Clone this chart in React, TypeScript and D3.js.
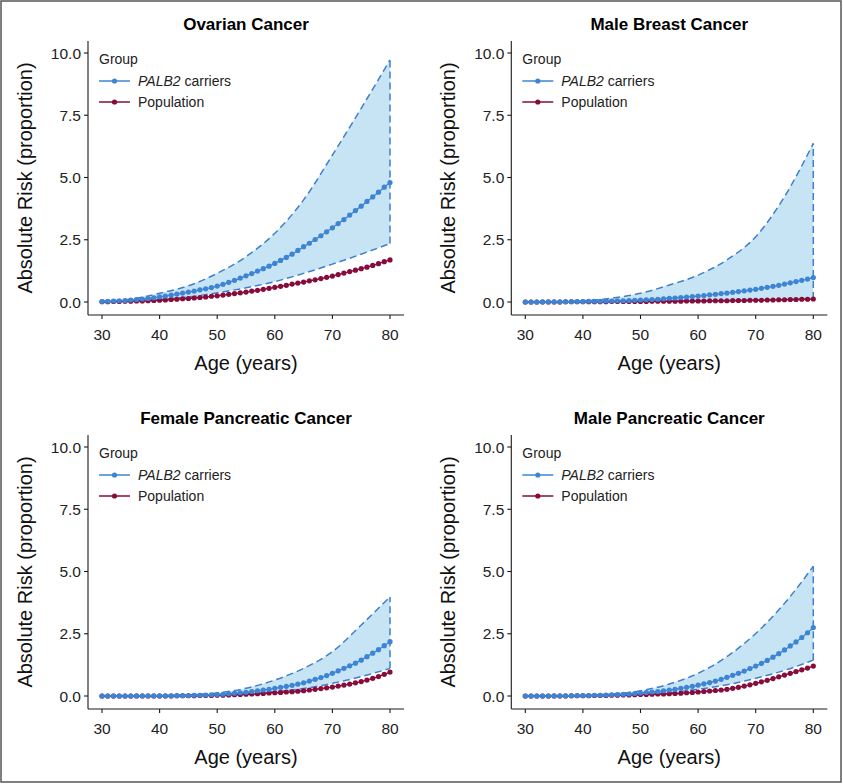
import React from "react";
import * as d3 from "d3";

// ---------- data ----------
const AGES = d3.range(30, 81); // 30..80 yearly
const BAND_AGES = [30, 35, 40, 45, 50, 55, 60, 65, 70, 75, 80];
const X_TICKS = [30, 40, 50, 60, 70, 80];
const Y_TICKS = [0, 2.5, 5, 7.5, 10];
const TITLES = ["Ovarian Cancer", "Male Breast Cancer", "Female Pancreatic Cancer", "Male Pancreatic Cancer"];

const ovarianCarriers = [
  0.02, 0.03, 0.04, 0.05, 0.06, 0.08, 0.10, 0.12, 0.14, 0.17, 0.21,
  0.24, 0.28, 0.32, 0.36, 0.40, 0.44, 0.49, 0.53, 0.58, 0.64,
  0.71, 0.79, 0.87, 0.96, 1.05, 1.14, 1.24, 1.34, 1.44, 1.55,
  1.67, 1.79, 1.92, 2.07, 2.22, 2.36, 2.51, 2.66, 2.82, 2.98,
  3.15, 3.31, 3.49, 3.67, 3.85, 4.04, 4.22, 4.41, 4.61, 4.80,
];
const ovarianPopulation = [
  0.01, 0.01, 0.02, 0.02, 0.03, 0.03, 0.04, 0.04, 0.05, 0.06, 0.07,
  0.08, 0.10, 0.11, 0.13, 0.14, 0.16, 0.18, 0.20, 0.23, 0.25,
  0.28, 0.31, 0.34, 0.37, 0.40, 0.44, 0.47, 0.51, 0.55, 0.59,
  0.63, 0.67, 0.72, 0.76, 0.80, 0.85, 0.89, 0.94, 0.99, 1.04,
  1.10, 1.16, 1.22, 1.28, 1.34, 1.40, 1.47, 1.54, 1.62, 1.69,
];
const ovarianUpper = [0.03, 0.12, 0.35, 0.65, 1.15, 1.82, 2.76, 4.1, 5.9, 7.78, 9.72];
const ovarianLower = [0.01, 0.03, 0.1, 0.2, 0.37, 0.57, 0.82, 1.15, 1.52, 1.92, 2.35];

const maleBreastCarriers = [
  0.00, 0.00, 0.00, 0.01, 0.01, 0.01, 0.01, 0.01, 0.02, 0.02, 0.02,
  0.03, 0.03, 0.03, 0.04, 0.04, 0.05, 0.05, 0.06, 0.07, 0.08,
  0.09, 0.10, 0.11, 0.13, 0.15, 0.16, 0.18, 0.20, 0.22, 0.24,
  0.26, 0.29, 0.31, 0.34, 0.36, 0.39, 0.42, 0.45, 0.48, 0.51,
  0.55, 0.59, 0.63, 0.67, 0.72, 0.77, 0.82, 0.87, 0.92, 0.98,
];
const maleBreastPopulation = [
  0.00, 0.00, 0.00, 0.00, 0.00, 0.00, 0.00, 0.01, 0.01, 0.01, 0.01,
  0.01, 0.01, 0.01, 0.01, 0.02, 0.02, 0.02, 0.02, 0.02, 0.02,
  0.02, 0.03, 0.03, 0.03, 0.03, 0.03, 0.03, 0.04, 0.04, 0.04,
  0.04, 0.05, 0.05, 0.05, 0.05, 0.06, 0.06, 0.06, 0.07, 0.07,
  0.07, 0.08, 0.08, 0.09, 0.09, 0.10, 0.10, 0.11, 0.11, 0.12,
];
const maleBreastUpper = [0.0, 0.01, 0.05, 0.15, 0.35, 0.68, 1.08, 1.69, 2.62, 4.23, 6.37];
const maleBreastLower = [0.0, 0.0, 0.0, 0.01, 0.02, 0.03, 0.04, 0.05, 0.07, 0.09, 0.12];

const femPancCarriers = [
  0.00, 0.00, 0.00, 0.00, 0.00, 0.00, 0.01, 0.01, 0.01, 0.01, 0.01,
  0.01, 0.01, 0.01, 0.02, 0.02, 0.03, 0.03, 0.04, 0.05, 0.06,
  0.07, 0.09, 0.11, 0.13, 0.15, 0.18, 0.21, 0.24, 0.27, 0.31,
  0.35, 0.39, 0.43, 0.48, 0.53, 0.60, 0.67, 0.74, 0.82, 0.91,
  1.01, 1.11, 1.21, 1.32, 1.44, 1.58, 1.72, 1.86, 2.02, 2.18,
];
const femPancPopulation = [
  0.00, 0.00, 0.00, 0.00, 0.00, 0.00, 0.00, 0.00, 0.00, 0.00, 0.00,
  0.00, 0.00, 0.01, 0.01, 0.01, 0.01, 0.02, 0.02, 0.02, 0.03,
  0.03, 0.04, 0.05, 0.06, 0.07, 0.08, 0.09, 0.10, 0.12, 0.13,
  0.14, 0.16, 0.17, 0.19, 0.21, 0.24, 0.27, 0.30, 0.33, 0.36,
  0.40, 0.44, 0.48, 0.53, 0.58, 0.64, 0.71, 0.78, 0.87, 0.96,
];
const femPancUpper = [0.0, 0.0, 0.02, 0.05, 0.12, 0.31, 0.64, 1.11, 1.78, 2.85, 3.98];
const femPancLower = [0.0, 0.0, 0.0, 0.01, 0.03, 0.08, 0.17, 0.3, 0.51, 0.78, 1.11];

const malePancCarriers = [
  0.00, 0.00, 0.00, 0.00, 0.00, 0.01, 0.01, 0.01, 0.01, 0.02, 0.02,
  0.02, 0.03, 0.03, 0.04, 0.05, 0.06, 0.07, 0.08, 0.10, 0.12,
  0.14, 0.16, 0.18, 0.21, 0.24, 0.27, 0.31, 0.35, 0.39, 0.44,
  0.49, 0.54, 0.60, 0.67, 0.75, 0.83, 0.91, 1.00, 1.10, 1.20,
  1.31, 1.43, 1.56, 1.70, 1.85, 2.01, 2.17, 2.35, 2.54, 2.75,
];
const malePancPopulation = [
  0.00, 0.00, 0.00, 0.00, 0.00, 0.00, 0.00, 0.00, 0.01, 0.01, 0.01,
  0.01, 0.02, 0.02, 0.02, 0.03, 0.03, 0.04, 0.04, 0.05, 0.06,
  0.06, 0.07, 0.08, 0.08, 0.09, 0.10, 0.11, 0.13, 0.14, 0.16,
  0.18, 0.20, 0.22, 0.24, 0.27, 0.31, 0.35, 0.40, 0.45, 0.51,
  0.57, 0.63, 0.70, 0.77, 0.84, 0.91, 0.98, 1.05, 1.12, 1.20,
];
const malePancUpper = [0.0, 0.01, 0.03, 0.08, 0.21, 0.48, 0.91, 1.58, 2.51, 3.72, 5.21];
const malePancLower = [0.0, 0.0, 0.01, 0.02, 0.05, 0.13, 0.27, 0.45, 0.71, 1.03, 1.44];

const PANELS = [
  { title: TITLES[0], carriers: ovarianCarriers, population: ovarianPopulation, upper: ovarianUpper, lower: ovarianLower, ox: 0, oy: 0 },
  { title: TITLES[1], carriers: maleBreastCarriers, population: maleBreastPopulation, upper: maleBreastUpper, lower: maleBreastLower, ox: 423.3, oy: 0 },
  { title: TITLES[2], carriers: femPancCarriers, population: femPancPopulation, upper: femPancUpper, lower: femPancLower, ox: 0, oy: 394 },
  { title: TITLES[3], carriers: malePancCarriers, population: malePancPopulation, upper: malePancUpper, lower: malePancLower, ox: 423.3, oy: 394 },
];

// ---------- style ----------
const BLUE = "#3d84d4";
const DASH_BLUE = "#3f7fcc";
const FILL = "#c6e4f3";
const RED = "#870b3b";
const INK = "#1a1a1a";
const FONT = "'Liberation Sans', Arial, Helvetica, sans-serif";

const x = d3.scaleLinear().domain([30, 80]).range([102, 390]);
const y = d3.scaleLinear().domain([0, 10]).range([302, 53]);
const fmt = d3.format(".1f");

function Panel({ p }: { p: (typeof PANELS)[number] }) {
  const carriers = AGES.map((a, i) => [a, p.carriers[i]] as [number, number]);
  const pop = AGES.map((a, i) => [a, p.population[i]] as [number, number]);
  const band = BAND_AGES.map((a, i) => ({ a, lo: p.lower[i], hi: p.upper[i] }));
  const line = d3.line<[number, number]>().x((d) => x(d[0])).y((d) => y(d[1]));
  const area = d3
    .area<{ a: number; lo: number; hi: number }>()
    .x((d) => x(d.a))
    .y0((d) => y(d.lo))
    .y1((d) => y(d.hi))
    .curve(d3.curveMonotoneX);
  const bandLine = (key: "lo" | "hi") =>
    d3
      .line<{ a: number; lo: number; hi: number }>()
      .x((d) => x(d.a))
      .y((d) => y(d[key]))
      .curve(d3.curveMonotoneX)(band) || "";
  const last = band[band.length - 1];
  const axisL = 88, axisR = 404, axisT = 41, axisB = 315;
  return (
    <g transform={`translate(${p.ox},${p.oy})`}>
      <text x={246} y={30} textAnchor="middle" fontSize={17} fontWeight="bold" fill="#000">
        {p.title}
      </text>
      {/* ribbon */}
      <path d={area(band) || ""} fill={FILL} stroke="none" />
      <path d={bandLine("hi")} fill="none" stroke={DASH_BLUE} strokeWidth={1.5} strokeDasharray="7,4" />
      <path d={bandLine("lo")} fill="none" stroke={DASH_BLUE} strokeWidth={1.5} strokeDasharray="7,4" />
      <line x1={x(last.a)} x2={x(last.a)} y1={y(last.lo)} y2={y(last.hi)} stroke={DASH_BLUE} strokeWidth={1.5} strokeDasharray="7,4" />
      {/* population */}
      <path d={line(pop) || ""} fill="none" stroke={RED} strokeWidth={1.3} />
      {pop.map((d, i) => (
        <circle key={"p" + i} cx={x(d[0])} cy={y(d[1])} r={2.6} fill={RED} />
      ))}
      {/* carriers */}
      <path d={line(carriers) || ""} fill="none" stroke={BLUE} strokeWidth={1.3} />
      {carriers.map((d, i) => (
        <circle key={"c" + i} cx={x(d[0])} cy={y(d[1])} r={2.6} fill={BLUE} />
      ))}
      {/* axes */}
      <line x1={axisL} x2={axisL} y1={axisT} y2={axisB} stroke={INK} strokeWidth={1.1} />
      <line x1={axisL} x2={axisR} y1={axisB} y2={axisB} stroke={INK} strokeWidth={1.1} />
      {Y_TICKS.map((t) => (
        <g key={"y" + t}>
          <line x1={axisL - 4} x2={axisL} y1={y(t)} y2={y(t)} stroke={INK} strokeWidth={1.1} />
          <text x={81} y={y(t)} dy="0.36em" textAnchor="end" fontSize={15.5} fill="#222">
            {fmt(t)}
          </text>
        </g>
      ))}
      {X_TICKS.map((t) => (
        <g key={"x" + t}>
          <line x1={x(t)} x2={x(t)} y1={axisB} y2={axisB + 4} stroke={INK} strokeWidth={1.1} />
          <text x={x(t)} y={340} textAnchor="middle" fontSize={15.5} fill="#222">
            {t}
          </text>
        </g>
      ))}
      <text x={246} y={370} textAnchor="middle" fontSize={20} fill="#111">
        Age (years)
      </text>
      <text transform={`translate(32,178) rotate(-90)`} textAnchor="middle" fontSize={20} fill="#111">
        Absolute Risk (proportion)
      </text>
      {/* legend */}
      <text x={99} y={64} fontSize={14} fill="#222">Group</text>
      <line x1={99} x2={130} y1={81} y2={81} stroke={BLUE} strokeWidth={1.5} />
      <circle cx={114.5} cy={81} r={2.6} fill={BLUE} />
      <text x={138} y={86} fontSize={14} fill="#222">
        <tspan fontStyle="italic">PALB2</tspan> carriers
      </text>
      <line x1={99} x2={130} y1={102} y2={102} stroke={RED} strokeWidth={1.5} />
      <circle cx={114.5} cy={102} r={2.6} fill={RED} />
      <text x={138} y={107} fontSize={14} fill="#222">Population</text>
    </g>
  );
}

export default function App() {
  return (
    <svg
      width={843}
      height={784}
      style={{ position: "absolute", left: 0, top: 0, background: "#fff" }}
      fontFamily={FONT}
    >
      <rect x={0} y={0} width={843} height={784} fill="#fff" />
      <rect x={1} y={1} width={840} height={781} fill="none" stroke="#555" strokeWidth={1.5} />
      {PANELS.map((p) => (
        <Panel key={p.title} p={p} />
      ))}
    </svg>
  );
}
